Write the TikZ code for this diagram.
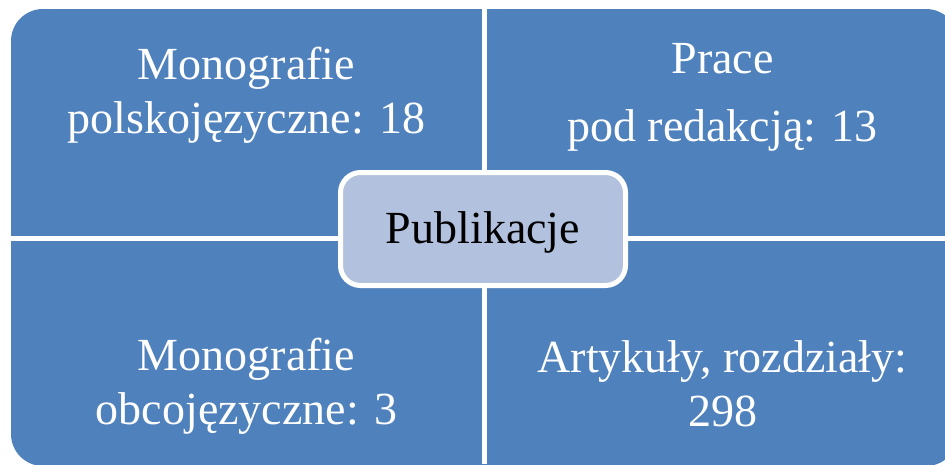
\documentclass[tikz,border=0pt]{standalone}
\usepackage{fontspec}
\setmainfont{Liberation Serif}
\usetikzlibrary{positioning}
\definecolor{quadblue}{HTML}{4F81BD}
\definecolor{pubfill}{HTML}{B2C1DE}

\begin{document}
\begin{tikzpicture}[x=1pt,y=-1pt,
    quad text/.style={text=white,align=center,font=\fontsize{46}{54}\selectfont},
    pub node/.style={draw=white,line width=5pt,fill=pubfill,rounded corners=20pt,minimum width=285pt,minimum height=113pt,text height=29pt,text depth=0pt,font=\fontsize{46}{54}\selectfont}]

    \clip (0,0) rectangle (945,464);

    % blue matrix with white gaps
    \fill[quadblue,rounded corners=32pt] (11,9) rectangle (958,466);
    \draw[white,line width=5pt] (484.5,0) -- (484.5,464);
    \draw[white,line width=5pt] (0,238) -- (945,238);

    \node[quad text] (monopl) at (246.5,95) {Monografie\\polskojęzyczne: 18};
    \node[quad text] (prace) at (722.5,97) {Prace\\[14pt] pod redakcją: 13};
    \node[quad text] (monoobc) at (246.5,386) {Monografie\\obcojęzyczne: 3};
    \node[quad text] (art) at (722.5,384) {Artykuły, rozdziały:\\298};

    \node[pub node] (pub) at (483,229) {Publikacje};

\end{tikzpicture}
\end{document}
